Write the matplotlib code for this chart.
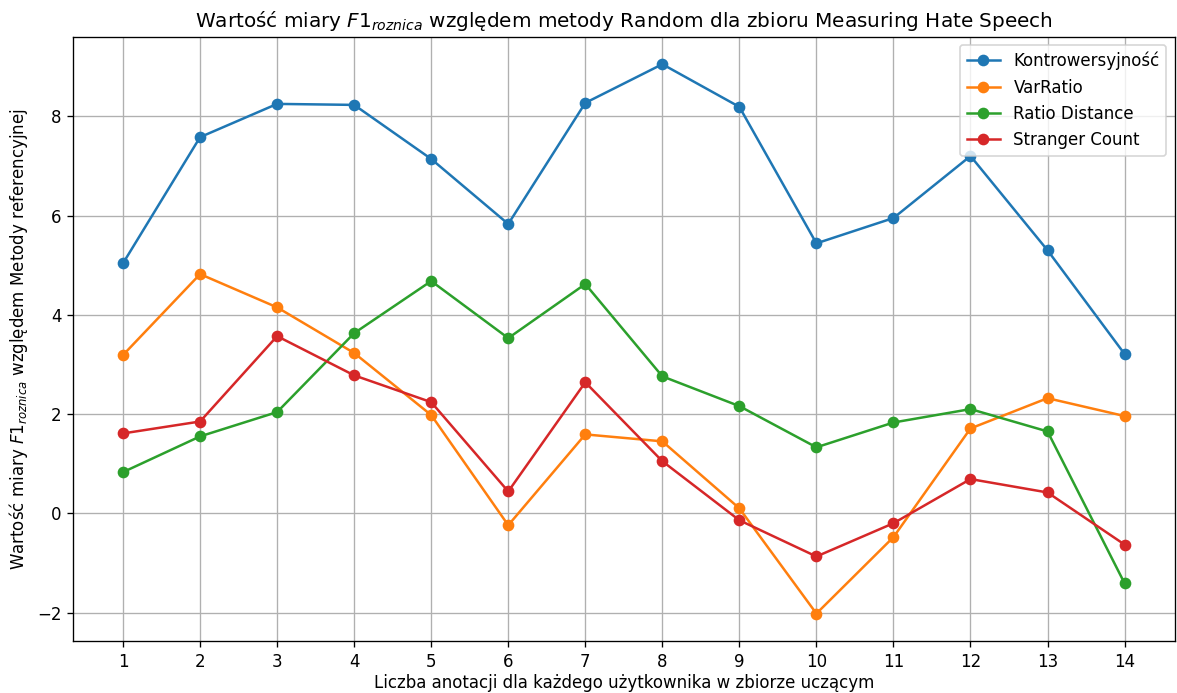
import matplotlib
matplotlib.use("Agg")
import matplotlib.pyplot as plt

# Liczba anotacji
x = list(range(1, 15))

kontrowersyjnosc = [5.04, 7.58, 8.25, 8.23, 7.14, 5.83, 8.27, 9.05, 8.19, 5.44, 5.95, 7.20, 5.30, 3.21]
var_ratio = [3.19, 4.82, 4.15, 3.23, 1.98, -0.24, 1.59, 1.45, 0.10, -2.02, -0.48, 1.71, 2.32, 1.96]
ratio_distance = [0.83, 1.55, 2.04, 3.63, 4.68, 3.53, 4.62, 2.76, 2.16, 1.33, 1.83, 2.10, 1.65, -1.41]
stranger_count = [1.61, 1.85, 3.57, 2.78, 2.24, 0.44, 2.64, 1.05, -0.14, -0.87, -0.20, 0.69, 0.42, -0.63]

fig, ax = plt.subplots(figsize=(11.77 / 1.2, 6.93 / 1.2), dpi=120)
fig.subplots_adjust(left=0.062, right=0.998, top=0.947, bottom=0.075)

ax.plot(x, kontrowersyjnosc, marker="o", label="Kontrowersyjność")
ax.plot(x, var_ratio, marker="o", label="VarRatio")
ax.plot(x, ratio_distance, marker="o", label="Ratio Distance")
ax.plot(x, stranger_count, marker="o", label="Stranger Count")

ax.set_xticks(x)
ax.grid(True)
ax.legend(loc="upper right")
ax.set_title("Wartość miary $F1_{roznica}$ względem metody Random dla zbioru Measuring Hate Speech")
ax.set_xlabel("Liczba anotacji dla każdego użytkownika w zbiorze uczącym", labelpad=2)
ax.set_ylabel("Wartość miary $F1_{roznica}$ względem Metody referencyjnej")

fig.savefig("out.png")
